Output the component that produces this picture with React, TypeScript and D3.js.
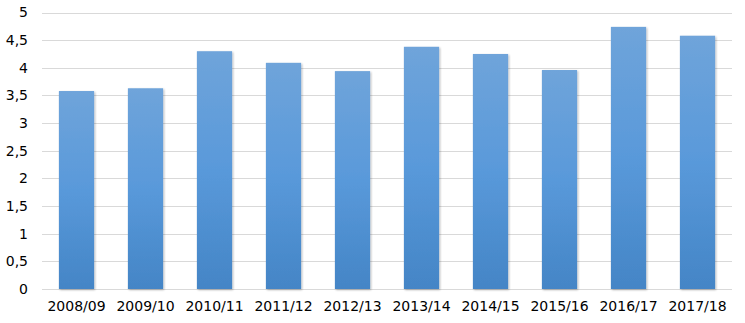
import React from "react";
import * as d3 from "d3";

const categories = ["2008/09","2009/10","2010/11","2011/12","2012/13","2013/14","2014/15","2015/16","2016/17","2017/18"];
const values = [3.58, 3.63, 4.30, 4.09, 3.94, 4.38, 4.25, 3.96, 4.74, 4.58];
const yTicks = [0, 0.5, 1, 1.5, 2, 2.5, 3, 3.5, 4, 4.5, 5];

const W = 745, H = 323;
const left = 42, right = 732, top = 12.5, bottom = 289;

export default function App() {
  const x = d3.scaleBand<string>().domain(categories).range([left, right]).paddingInner(0.49).paddingOuter(0.245);
  const y = d3.scaleLinear().domain([0, 5]).range([bottom, top]);
  const fmt = (v: number) => String(v).replace(".", ",");
  return (
    <svg width={W} height={H} style={{ position: "absolute", left: 0, top: 0 }} fontFamily="'DejaVu Sans', sans-serif">
      <defs>
        <linearGradient id="g" x1="0" y1="0" x2="0" y2="1">
          <stop offset="0" stopColor="#6fa4da" />
          <stop offset="0.5" stopColor="#5999da" />
          <stop offset="1" stopColor="#4485c6" />
        </linearGradient>
        <filter id="sh" x="-20%" y="-5%" width="140%" height="110%">
          <feGaussianBlur in="SourceAlpha" stdDeviation="1.2" />
          <feOffset dx="0.5" dy="0.5" result="b" />
          <feComponentTransfer><feFuncA type="linear" slope="0.3" /></feComponentTransfer>
          <feMerge><feMergeNode /><feMergeNode in="SourceGraphic" /></feMerge>
        </filter>
      </defs>
      <rect width={W} height={H} fill="#fff" />
      {yTicks.map((t) => (
        <g key={t}>
          <line x1={left} x2={right} y1={Math.round(y(t)) + 0.5} y2={Math.round(y(t)) + 0.5} stroke="#d9d9d9" strokeWidth={1} />
          <text x={28} y={y(t)} dy="0.35em" textAnchor="end" fontSize={14} fill="#000">{fmt(t)}</text>
        </g>
      ))}
      {categories.map((c, i) => (
        <rect key={c} x={x(c)} y={y(values[i])} width={x.bandwidth()} height={bottom - y(values[i])} fill="url(#g)" filter="url(#sh)" />
      ))}
      {categories.map((c) => (
        <text key={c} x={(x(c) as number) + x.bandwidth() / 2} y={306} dy="0.35em" textAnchor="middle" fontSize={14} fill="#000">{c}</text>
      ))}
    </svg>
  );
}
